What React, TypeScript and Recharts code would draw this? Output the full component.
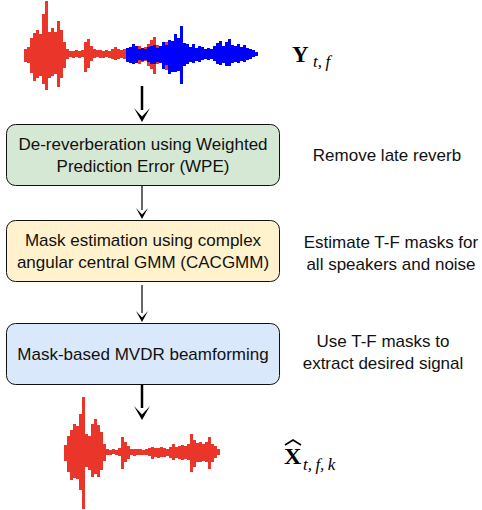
import { BarChart, Bar, XAxis, YAxis } from 'recharts'

// waveform envelopes, one sample per 3px column (upward / downward amplitude)
const topRedUp = [5, 7, 16, 21, 24, 20, 40, 53, 22, 26, 22, 33, 24, 12, 5, 3, 3, 4, 3, 4, 12, 15, 8, 5, 4, 4, 3, 4, 3, 5, 7, 5, 4, 5, 4, 6, 5, 7, 8, 6, 7, 10, 14, 17, 9, 8, 11, 12, 8, 5]
const topRedDown = [8, 9, 19, 27, 24, 22, 30, 36, 24, 22, 20, 33, 24, 14, 5, 3, 4, 3, 4, 3, 18, 14, 7, 4, 3, 4, 4, 3, 4, 5, 6, 5, 4, 5, 5, 8, 6, 9, 10, 8, 7, 12, 15, 20, 10, 9, 13, 16, 10, 6]
const topBlueStart = 34
const topBlueUp = [6, 7, 10, 8, 5, 6, 5, 7, 8, 9, 6, 8, 12, 9, 14, 13, 20, 16, 28, 11, 10, 7, 10, 6, 8, 7, 5, 6, 5, 8, 11, 13, 8, 12, 15, 9, 8, 10, 7, 9, 6, 5, 4, 2]
const topBlueDown = [8, 9, 10, 9, 6, 7, 6, 8, 10, 10, 8, 9, 15, 11, 20, 18, 18, 17, 30, 12, 10, 8, 9, 7, 8, 6, 5, 6, 5, 7, 10, 11, 9, 12, 12, 9, 8, 9, 7, 8, 6, 5, 3, 2]
const topSamples = 80

const outUp = [7, 16, 22, 28, 26, 38, 55, 18, 16, 28, 33, 27, 20, 8, 3, 2, 3, 2, 4, 15, 10, 6, 3, 3, 3, 3, 2, 3, 4, 5, 4, 4, 5, 4, 3, 5, 8, 5, 6, 7, 6, 8, 18, 12, 9, 10, 8, 10, 15, 8, 6, 3]
const outDown = [9, 20, 28, 26, 27, 38, 57, 15, 18, 25, 22, 25, 18, 9, 3, 3, 2, 3, 4, 17, 10, 7, 3, 4, 3, 3, 3, 3, 4, 7, 5, 6, 5, 5, 4, 6, 8, 6, 7, 8, 7, 8, 20, 15, 10, 10, 9, 10, 17, 10, 6, 3]

const boxes = [
  { lines: ['De-reverberation using Weighted', 'Prediction Error (WPE)'], fill: '#d5e8d4', top: 124 },
  { lines: ['Mask estimation using complex', 'angular central GMM (CACGMM)'], fill: '#fff2cc', top: 220 },
  { lines: ['Mask-based MVDR beamforming'], fill: '#dae8fc', top: 323 },
]
const notes = [
  { lines: ['Remove late reverb'], x: 387, y: 155 },
  { lines: ['Estimate T-F masks for', 'all speakers and noise'], x: 391, y: 253 },
  { lines: ['Use T-F masks to', 'extract desired signal'], x: 383, y: 352 },
]

const RED = '#e9352a'
const BLUE = '#0000ff'
const FONT = '"Liberation Sans", Arial, sans-serif'
const SERIF = '"Liberation Serif", "DejaVu Serif", serif'

const topData = Array.from({ length: topSamples }, (_, i) => {
  const b = i - topBlueStart
  return {
    i,
    red: i < topRedUp.length ? [-topRedDown[i], topRedUp[i]] : null,
    blue: b >= 0 && b < topBlueUp.length ? [-topBlueDown[b], topBlueUp[b]] : null,
  }
})
const outData = outUp.map((u, i) => ({ i, red: [-outDown[i], u] }))

function Arrow({ x, y1, y2, thick }: { x: number; y1: number; y2: number; thick?: boolean }) {
  const hw = thick ? 8 : 6
  const hh = thick ? 14 : 11
  return (
    <g>
      <line x1={x} y1={y1} x2={x} y2={y2 - hh + 2} stroke="#000" strokeWidth={thick ? 2.5 : 1.2} />
      <path d={`M${x - hw},${y2 - hh} L${x},${y2 - hh * 0.4} L${x + hw},${y2 - hh} L${x},${y2} Z`} fill="#000" />
    </g>
  )
}

export default function App() {
  return (
    <div style={{ position: 'absolute', left: 0, top: 0, width: 482, height: 510, overflow: 'hidden', background: '#fff' }}>
      <div style={{ position: 'absolute', left: 24, top: -1 }}>
        <BarChart width={240} height={110} data={topData} margin={{ top: 0, right: 0, bottom: 0, left: 0 }} barCategoryGap={0}>
          <XAxis xAxisId="r" dataKey="i" hide />
          <XAxis xAxisId="b" dataKey="i" hide />
          <YAxis hide domain={[-55, 55]} allowDataOverflow />
          <Bar xAxisId="r" dataKey="red" fill={RED} isAnimationActive={false} />
          <Bar xAxisId="b" dataKey="blue" fill={BLUE} isAnimationActive={false} />
        </BarChart>
      </div>
      <div style={{ position: 'absolute', left: 64, top: 392 }}>
        <BarChart width={156} height={120} data={outData} margin={{ top: 0, right: 0, bottom: 0, left: 0 }} barCategoryGap={0}>
          <XAxis dataKey="i" hide />
          <YAxis hide domain={[-60, 60]} allowDataOverflow />
          <Bar dataKey="red" fill={RED} isAnimationActive={false} />
        </BarChart>
      </div>
      <svg width={482} height={510} style={{ position: 'absolute', left: 0, top: 0 }}>
        <Arrow x={142} y1={86} y2={122} thick />
        <Arrow x={142} y1={186} y2={219} />
        <Arrow x={142} y1={285} y2={322} />
        <Arrow x={142} y1={384} y2={420} thick />
        {boxes.map((b) => (
          <g key={b.top}>
            <rect x={6.5} y={b.top + 0.5} width={273} height={61} rx={9} fill={b.fill} stroke="#111" strokeWidth={1} />
            {b.lines.map((t, k) => (
              <text
                key={k}
                x={143}
                y={b.top + 31 + (k - (b.lines.length - 1) / 2) * 22}
                textAnchor="middle"
                dominantBaseline="central"
                fontFamily={FONT}
                fontSize={17}
                fill="#111"
              >
                {t}
              </text>
            ))}
          </g>
        ))}
        {notes.map((n) =>
          n.lines.map((t, k) => (
            <text
              key={n.y + '-' + k}
              x={n.x}
              y={n.y + (k - (n.lines.length - 1) / 2) * 22}
              textAnchor="middle"
              dominantBaseline="central"
              fontFamily={FONT}
              fontSize={17}
              fill="#111"
            >
              {t}
            </text>
          )),
        )}
        <text x={292} y={62} fontFamily={SERIF} fontWeight="bold" fontSize={23} fill="#000">
          Y
        </text>
        <text x={313} y={67} fontFamily={SERIF} fontStyle="italic" fontSize={17} fill="#000">
          {'t,\u2009f'}
        </text>
        <path d="M285,445 L293,440 L301,445" fill="none" stroke="#000" strokeWidth={1.6} />
        <text x={284} y={464} fontFamily={SERIF} fontWeight="bold" fontSize={24} fill="#000">
          X
        </text>
        <text x={303} y={470} fontFamily={SERIF} fontStyle="italic" fontSize={17} fill="#000">
          {'t,\u2009f,\u2009k'}
        </text>
      </svg>
    </div>
  )
}
